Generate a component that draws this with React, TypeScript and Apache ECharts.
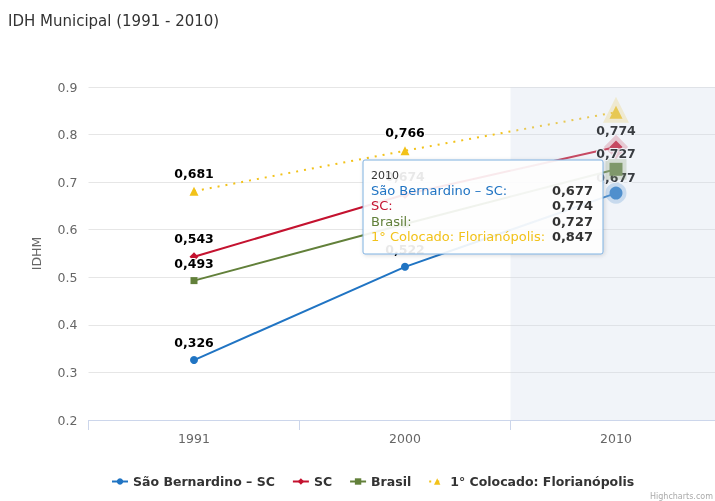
import React, { useEffect, useRef } from "react";
import * as echarts from "echarts";

const title = "IDH Municipal (1991 - 2010)";
const categories = ["1991", "2000", "2010"];
const seriesNames = ["São Bernardino – SC", "SC", "Brasil", "1° Colocado: Florianópolis"];
const saoBernardino = [0.326, 0.522, 0.677];
const sc = [0.543, 0.674, 0.774];
const brasil = [0.493, 0.612, 0.727];
const florianopolis = [0.681, 0.766, 0.847];
const yTicks = [0.2, 0.3, 0.4, 0.5, 0.6, 0.7, 0.8, 0.9];
const hoverIndex = 2;

const colors = ["#2074c3", "#c4122f", "#62803a", "#f2c21a"];
const halo = [
  "rgba(32,116,195,0.25)",
  "rgba(196,18,47,0.25)",
  "rgba(98,128,58,0.25)",
  "rgba(242,194,26,0.25)",
];
const symbols = ["circle", "diamond", "rect", "triangle"];
const allData = [saoBernardino, sc, brasil, florianopolis];
// labels that are not visible in the picture: [seriesIndex, dataIndex]
const hiddenLabels = [
  [2, 1],
  [3, 2],
];

const fmt = (v: number) => v.toFixed(3).replace(".", ",");
const FONT = '"DejaVu Sans", Verdana, sans-serif';

export default function App() {
  const ref = useRef<HTMLDivElement>(null);
  useEffect(() => {
    if (!ref.current) return;
    const chart = echarts.init(ref.current, undefined, { renderer: "svg" });

    const series = allData.map((arr, si) => ({
      name: seriesNames[si],
      type: "line",
      symbol: symbols[si],
      symbolSize: si === 0 ? 8 : si === 1 ? 9 : si === 2 ? 7 : 9,
      lineStyle: {
        width: 2,
        color: colors[si],
        type: si === 3 ? [2, 6] : "solid",
      },
      itemStyle: { color: colors[si] },
      label: {
        show: true,
        position: "top",
        distance: 7,
        formatter: (p: any) => fmt(p.value),
        color: "#000",
        fontWeight: "bold",
        fontSize: 12.5,
        fontFamily: FONT,
        textBorderColor: "#fff",
        textBorderWidth: 2,
      },
      data: arr.map((v, di) => {
        const item: any = { value: v };
        if (hiddenLabels.some(([s, d]) => s === si && d === di)) {
          item.label = { show: false };
        } else if (di === hoverIndex) {
          item.label = { distance: -1 };
        }
        if (di === hoverIndex) {
          item.symbolSize = 13;
          item.itemStyle = { borderColor: halo[si], borderWidth: 8 };
        }
        return item;
      }),
      z: 2 + si,
    }));

    const tipX = 363;
    const tipY = 160;
    const tipW = 240;
    const tipH = 94;
    const rowY = [190, 205.5, 221, 236.5];
    const TZ = 100;

    const tipChildren: any[] = [
      {
        type: "rect",
        z: TZ,
        shape: { x: tipX, y: tipY, width: tipW, height: tipH, r: 2 },
        style: {
          fill: "rgba(255,255,255,0.9)",
          stroke: "#7fb0e0",
          lineWidth: 1,
          shadowBlur: 4,
          shadowColor: "rgba(0,0,0,0.15)",
          shadowOffsetX: 1,
          shadowOffsetY: 1,
        },
      },
      {
        type: "text",
        z: TZ + 1,
        x: tipX + 8,
        y: tipY + 15,
        style: {
          text: categories[hoverIndex],
          fill: "#333",
          font: `11px ${FONT}`,
          align: "left",
          verticalAlign: "middle",
        },
      },
    ];
    seriesNames.forEach((n, i) => {
      tipChildren.push({
        type: "text",
        z: TZ + 1,
        x: tipX + 8,
        y: rowY[i],
        style: {
          text: n + ":",
          fill: colors[i],
          font: `13px ${FONT}`,
          align: "left",
          verticalAlign: "middle",
        },
      });
      tipChildren.push({
        type: "text",
        z: TZ + 1,
        x: tipX + tipW - 10,
        y: rowY[i],
        style: {
          text: fmt(allData[i][hoverIndex]),
          fill: "#333",
          font: `bold 13px ${FONT}`,
          align: "right",
          verticalAlign: "middle",
        },
      });
    });

    chart.setOption({
      animation: false,
      color: colors,
      title: {
        text: title,
        left: 3,
        top: 8,
        textStyle: {
          fontSize: 15,
          fontWeight: "normal",
          color: "#333",
          fontFamily: FONT,
        },
      },
      legend: {
        top: 470,
        left: 106,
        itemGap: 17,
        itemWidth: 16,
        itemHeight: 8,
        textStyle: {
          fontSize: 12.5,
          fontWeight: "bold",
          color: "#333",
          fontFamily: FONT,
        },
        data: seriesNames,
      },
      grid: { left: 88.5, right: 0.5, top: 87, bottom: 81 },
      xAxis: {
        type: "category",
        data: categories,
        boundaryGap: true,
        axisLine: { lineStyle: { color: "#ccd6eb" } },
        axisTick: { show: true, length: 10, lineStyle: { color: "#ccd6eb" } },
        axisLabel: { color: "#666", fontSize: 12.5, fontFamily: FONT, margin: 12 },
        axisPointer: {
          show: true,
          type: "shadow",
          value: hoverIndex,
          status: "show",
          triggerTooltip: false,
          label: { show: false },
          shadowStyle: { color: "rgba(204,214,235,0.28)" },
        },
      },
      yAxis: {
        type: "value",
        min: yTicks[0],
        max: yTicks[yTicks.length - 1],
        interval: 0.1,
        name: "IDHM",
        nameLocation: "middle",
        nameGap: 46,
        nameTextStyle: { color: "#666", fontSize: 12.5, fontFamily: FONT },
        axisLine: { show: false },
        axisTick: { show: false },
        axisLabel: {
          color: "#666",
          fontSize: 12.5,
          fontFamily: FONT,
          margin: 11,
          formatter: (v: number) => v.toFixed(1),
        },
        splitLine: { lineStyle: { color: "#e6e6e6" } },
      },
      series,
      graphic: [
        { type: "group", z: TZ, children: tipChildren },
        {
          type: "text",
          z: TZ,
          x: 713,
          y: 496,
          style: {
            text: "Highcharts.com",
            fill: "#aaa",
            font: `8px ${FONT}`,
            align: "right",
            verticalAlign: "middle",
          },
        },
      ],
    });

    return () => chart.dispose();
  }, []);

  return (
    <div
      ref={ref}
      style={{ position: "fixed", left: 0, top: 0, width: 722, height: 501 }}
    />
  );
}
